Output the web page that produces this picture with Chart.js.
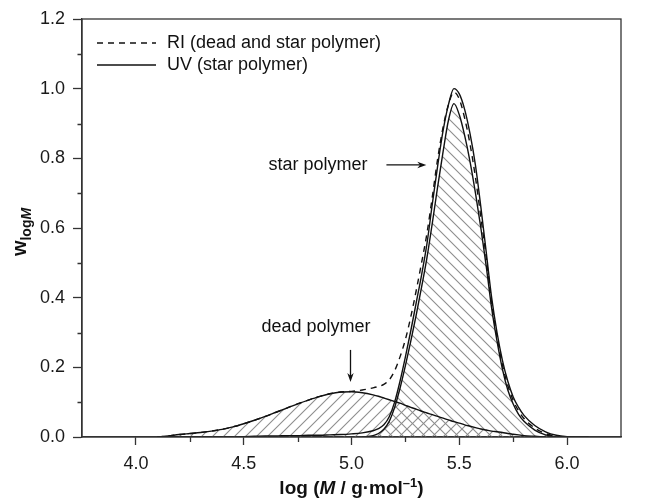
<!DOCTYPE html>
<html><head><meta charset="utf-8">
<script src="https://cdn.jsdelivr.net/npm/chart.js@4.4.0/dist/chart.umd.min.js"></script>
<style>html,body{margin:0;padding:0;background:#fff}#wrap{width:647px;height:502px;position:relative}</style>
</head><body><div id="wrap"><canvas id="c" width="647" height="502"></canvas></div>
<script>
// ---- data ----
const logM = [4.10,4.15,4.20,4.25,4.30,4.35,4.40,4.45,4.50,4.55,4.60,4.65,4.70,4.75,4.80,4.85,4.90,4.95,5.00,5.05,5.10,
  5.125,5.15,5.175,5.20,5.225,5.25,5.275,5.30,5.325,5.35,5.375,5.40,5.425,5.45,5.475,5.50,5.525,5.55,5.575,5.60,5.625,5.65,5.675,5.70,5.725,5.75,5.775,5.80,
  5.85,5.90,5.95,6.00,6.05,6.10];
const riDeadStar = [0,0.003,0.007,0.010,0.013,0.017,0.022,0.029,0.038,0.048,0.059,0.071,0.083,0.095,0.106,0.116,0.124,0.129,0.131,0.135,0.141,
  0.145,0.151,0.164,0.19,0.23,0.28,0.345,0.42,0.50,0.585,0.69,0.80,0.89,0.955,0.99,0.97,0.915,0.84,0.745,0.63,0.515,0.385,0.287,0.207,0.148,0.105,0.075,0.053,
  0.026,0.010,0.002,0,0,null];
const uvStar = [0,0,0,0,0,0,0,0,0.001,0.002,0.003,0.003,0.004,0.004,0.005,0.005,0.006,0.007,0.009,0.012,0.018,
  0.024,0.035,0.058,0.10,0.16,0.23,0.305,0.385,0.465,0.555,0.67,0.78,0.88,0.955,1.0,0.985,0.94,0.87,0.78,0.66,0.53,0.40,0.30,0.22,0.16,0.115,0.085,0.062,
  0.033,0.015,0.005,0.001,0,0];
const starFit = [null,null,null,null,null,null,null,null,null,null,null,null,null,null,null,null,null,null,null,0,0.004,
  0.01,0.022,0.045,0.085,0.14,0.205,0.275,0.35,0.43,0.515,0.615,0.72,0.82,0.91,0.957,0.925,0.865,0.79,0.70,0.60,0.49,0.37,0.275,0.195,0.135,0.095,0.065,0.045,
  0.02,0.006,0,null,null,null];
const deadFit = [0,0.003,0.007,0.010,0.013,0.017,0.022,0.029,0.038,0.048,0.059,0.071,0.083,0.095,0.106,0.116,0.124,0.129,0.130,0.127,0.121,
  0.117,0.112,0.107,0.102,0.097,0.091,0.085,0.080,0.074,0.069,0.064,0.059,0.054,0.049,0.044,0.040,0.035,0.031,0.027,0.023,0.020,0.017,0.015,0.013,0.010,0.008,0.006,0.004,
  0.002,0,null,null,null,null];
const seriesLabels = ['RI (dead and star polymer)','UV (star polymer)','star polymer','dead polymer'];
const xTicks = [4.0,4.5,5.0,5.5,6.0];
const xMinorTicks = [4.25,4.75,5.25,5.75];
const yTicks = [0.0,0.2,0.4,0.6,0.8,1.0,1.2];
const yMinorTicks = [0.1,0.3,0.5,0.7,0.9,1.1];

const FONT = '"Liberation Sans", Arial, sans-serif';
const AXIS = '#333';
const canvas = document.getElementById('c');
const ctx0 = canvas.getContext('2d');

function hatch(dir){
  const p = 11, c = document.createElement('canvas'); c.width = p; c.height = p;
  const g = c.getContext('2d'); g.strokeStyle = '#8e8e8e'; g.lineWidth = 1.1; g.beginPath();
  if (dir > 0) { g.moveTo(0,p); g.lineTo(p,0); g.moveTo(-1,1); g.lineTo(1,-1); g.moveTo(p-1,p+1); g.lineTo(p+1,p-1); }
  else { g.moveTo(0,0); g.lineTo(p,p); g.moveTo(-1,p-1); g.lineTo(1,p+1); g.moveTo(p-1,-1); g.lineTo(p+1,1); }
  g.stroke();
  return ctx0.createPattern(c, 'repeat');
}
const pts = arr => logM.map((x,i) => ({x, y: arr[i]}));

function arrow(ctx, x1, y1, x2, y2){
  const a = Math.atan2(y2-y1, x2-x1), L = 9, W = 3.2;
  ctx.beginPath(); ctx.moveTo(x1,y1);
  ctx.lineTo(x2 - L*Math.cos(a)*0.6, y2 - L*Math.sin(a)*0.6); ctx.stroke();
  ctx.beginPath(); ctx.moveTo(x2,y2);
  ctx.lineTo(x2 - L*Math.cos(a) - W*Math.sin(a), y2 - L*Math.sin(a) + W*Math.cos(a));
  ctx.lineTo(x2 - L*Math.cos(a)*0.7, y2 - L*Math.sin(a)*0.7);
  ctx.lineTo(x2 - L*Math.cos(a) + W*Math.sin(a), y2 - L*Math.sin(a) - W*Math.cos(a));
  ctx.closePath(); ctx.fill();
}

const decor = {
  id: 'decor',
  afterDraw(chart){
    const {ctx, chartArea: a, scales: {x, y}} = chart;
    ctx.save();
    // frame
    ctx.strokeStyle = AXIS; ctx.lineWidth = 1.3;
    ctx.strokeRect(a.left, a.top, a.right - a.left, a.bottom - a.top);
    // minor ticks
    ctx.beginPath();
    yMinorTicks.forEach(v => { const py = Math.round(y.getPixelForValue(v)) + 0.5; ctx.moveTo(a.left - 4.5, py); ctx.lineTo(a.left, py); });
    xMinorTicks.forEach(v => { const px = Math.round(x.getPixelForValue(v)) + 0.5; ctx.moveTo(px, a.bottom); ctx.lineTo(px, a.bottom + 5); });
    ctx.stroke();
    // legend
    ctx.fillStyle = '#111'; ctx.strokeStyle = '#111'; ctx.lineWidth = 1.4;
    ctx.font = '18px ' + FONT; ctx.textAlign = 'left'; ctx.textBaseline = 'middle';
    [0,1].forEach((di, k) => {
      const ds = chart.data.datasets[di], ly = 43 + k*22;
      ctx.setLineDash(ds.borderDash || []);
      ctx.beginPath(); ctx.moveTo(97, ly); ctx.lineTo(156, ly); ctx.stroke();
      ctx.setLineDash([]);
      ctx.fillText(ds.label, 167, ly);
    });
    // annotations
    ctx.lineWidth = 1.3;
    let ty = y.getPixelForValue(0.781);
    ctx.textAlign = 'right';
    ctx.fillText(seriesLabels[2], x.getPixelForValue(5.074), ty);
    arrow(ctx, x.getPixelForValue(5.162), ty, x.getPixelForValue(5.347), ty);
    ctx.textAlign = 'center';
    ctx.fillText(seriesLabels[3], x.getPixelForValue(4.835), y.getPixelForValue(0.316));
    const ax = Math.round(x.getPixelForValue(4.993)) + 0.5;
    arrow(ctx, ax, y.getPixelForValue(0.25), ax, y.getPixelForValue(0.158));
    // x title: log (M / g·mol–1)
    const parts = [
      ['log (', 'bold 19px ' + FONT, 0],
      ['M', 'italic bold 19px ' + FONT, 0],
      [' / g\u00B7mol', 'bold 19px ' + FONT, 0],
      ['\u20131', 'bold 13px ' + FONT, -7],
      [')', 'bold 19px ' + FONT, 0]
    ];
    let tw = 0;
    parts.forEach(p => { ctx.font = p[1]; tw += ctx.measureText(p[0]).width; });
    let cx = (a.left + a.right) / 2 - tw / 2;
    ctx.textAlign = 'left'; ctx.textBaseline = 'alphabetic';
    parts.forEach(p => { ctx.font = p[1]; ctx.fillText(p[0], cx, 494 + p[2]); cx += ctx.measureText(p[0]).width; });
    // y title: w_logM
    const yp = [
      ['w', 'bold 20px ' + FONT, 0],
      ['log', 'bold 14px ' + FONT, 5],
      ['M', 'italic bold 14px ' + FONT, 5]
    ];
    let th = 0;
    yp.forEach(p => { ctx.font = p[1]; th += ctx.measureText(p[0]).width; });
    ctx.translate(26, 232); ctx.rotate(-Math.PI / 2);
    let cy = -th / 2;
    yp.forEach(p => { ctx.font = p[1]; ctx.fillText(p[0], cy, p[2]); cy += ctx.measureText(p[0]).width; });
    ctx.restore();
  }
};

const lineBase = {pointRadius: 0, borderColor: '#111', borderWidth: 1.4, cubicInterpolationMode: 'monotone', spanGaps: false};

new Chart(canvas, {
  type: 'line',
  data: {
    datasets: [
      Object.assign({label: seriesLabels[0], data: pts(riDeadStar), fill: false}, lineBase, {borderDash: [6,5]}),
      Object.assign({label: seriesLabels[1], data: pts(uvStar), fill: false}, lineBase),
      Object.assign({label: seriesLabels[2], data: pts(starFit), fill: 'origin', backgroundColor: hatch(-1)}, lineBase),
      Object.assign({label: seriesLabels[3], data: pts(deadFit), fill: 'origin', backgroundColor: hatch(1)}, lineBase)
    ]
  },
  options: {
    responsive: false, animation: false, devicePixelRatio: 1,
    layout: {padding: {top: 19, right: 26, left: 0, bottom: 0}},
    plugins: {legend: {display: false}, tooltip: {enabled: false}, filler: {drawTime: 'beforeDatasetsDraw'}},
    scales: {
      x: {
        type: 'linear', min: 3.75, max: 6.25,
        afterBuildTicks: s => { s.ticks = xTicks.map(v => ({value: v})); },
        afterFit: s => { s.height = 65; },
        ticks: {callback: v => Number(v).toFixed(1), font: {family: FONT, size: 18}, color: '#1a1a1a', padding: 8, maxRotation: 0, autoSkip: false},
        grid: {drawOnChartArea: false, drawTicks: true, tickLength: 8, tickColor: AXIS, tickWidth: 1.3},
        border: {color: AXIS, width: 1.3}
      },
      y: {
        type: 'linear', min: 0, max: 1.2,
        afterBuildTicks: s => { s.ticks = yTicks.map(v => ({value: v})); },
        afterFit: s => { s.width = 82; },
        ticks: {callback: v => Number(v).toFixed(1), font: {family: FONT, size: 18}, color: '#1a1a1a', padding: 8, autoSkip: false},
        grid: {drawOnChartArea: false, drawTicks: true, tickLength: 9, tickColor: AXIS, tickWidth: 1.3},
        border: {color: AXIS, width: 1.3}
      }
    }
  },
  plugins: [decor]
});
</script>
</body></html>
